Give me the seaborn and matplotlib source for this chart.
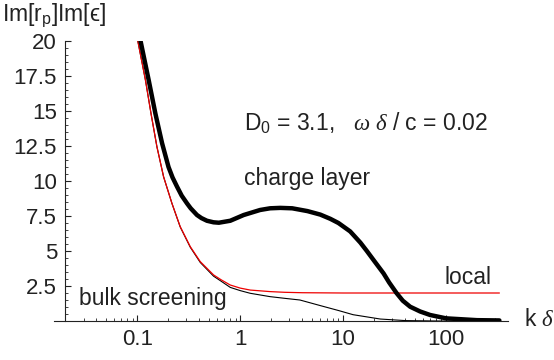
import numpy as np
import pandas as pd
import matplotlib
matplotlib.use("Agg")
import matplotlib.pyplot as plt
import seaborn as sns

# ── data (k delta, Im[r_p] Im[eps]) ─────────────────────────────────────────
k_charge = [0.100, 0.107, 0.129, 0.150, 0.174, 0.201, 0.220, 0.243, 0.270, 0.304,
            0.330, 0.380, 0.420, 0.475, 0.550, 0.620, 0.800, 1.08, 1.56, 1.95,
            2.45, 3.20, 4.50, 6.00, 7.50, 9.00, 11.7, 14.7, 17.0, 20.0,
            24.7, 28.0, 33.0, 38.0, 44.8, 56.0, 70.0, 100.0, 200.0, 330.0]
v_charge = [20.6, 20.07, 17.2, 14.8, 12.7, 11.0, 10.25, 9.6, 8.95, 8.4,
            8.05, 7.57, 7.35, 7.16, 7.05, 7.02, 7.16, 7.57, 7.93, 8.05,
            8.08, 8.05, 7.85, 7.6, 7.3, 7.0, 6.4, 5.6, 5.0, 4.3,
            3.4, 2.75, 2.0, 1.45, 1.02, 0.68, 0.43, 0.19, 0.06, 0.04]

k_local = [0.097, 0.1007, 0.120, 0.136, 0.155, 0.180, 0.217, 0.261, 0.327, 0.409,
           0.551, 0.650, 0.800, 1.00, 1.25, 1.95, 2.70, 4.00, 10.0, 330.0]
v_local = [20.6, 20.07, 17.2, 14.8, 12.45, 10.3, 8.4, 6.74, 5.31, 4.24,
           3.29, 2.95, 2.57, 2.35, 2.21, 2.1, 2.05, 2.02, 2.0, 2.0]

k_bulk = [0.097, 0.1007, 0.120, 0.136, 0.155, 0.180, 0.217, 0.261, 0.327, 0.409,
          0.551, 0.650, 0.800, 1.00, 1.25, 1.95, 2.70, 3.80, 6.00, 9.00,
          12.5, 23.0, 40.0, 80.0, 330.0]
v_bulk = [20.6, 20.07, 17.2, 14.8, 12.45, 10.3, 8.4, 6.72, 5.27, 4.18,
          3.2, 2.85, 2.4, 2.17, 1.98, 1.74, 1.62, 1.5, 1.1, 0.75,
          0.45, 0.14, 0.03, 0.0, 0.0]

x_major = [0.1, 1, 10, 100]
x_major_labels = ["0.1", "1", "10", "100"]
y_major = [2.5, 5, 7.5, 10, 12.5, 15, 17.5, 20]
y_major_labels = ["2.5", "5", "7.5", "10", "12.5", "15", "17.5", "20"]

sns.set_style("ticks")
plt.rcParams["font.family"] = ["Liberation Sans", "DejaVu Sans"]
plt.rcParams["mathtext.fontset"] = "custom"
plt.rcParams["mathtext.rm"] = "Liberation Sans"
plt.rcParams["mathtext.sf"] = "Liberation Sans"
plt.rcParams["mathtext.it"] = "Liberation Serif:italic"

fig = plt.figure(figsize=(5.54, 3.6), dpi=100)
ax = fig.add_axes([54 / 554, 1 - 321 / 360, (508 - 54) / 554, (321 - 41) / 360])

df_c = pd.DataFrame({"k": k_charge, "v": v_charge})
df_l = pd.DataFrame({"k": k_local, "v": v_local})
df_b = pd.DataFrame({"k": k_bulk, "v": v_bulk})

sns.lineplot(data=df_b, x="k", y="v", color="black", linewidth=0.8, ax=ax)
sns.lineplot(data=df_l, x="k", y="v", color="#ee0000", linewidth=0.9, ax=ax)
sns.lineplot(data=df_c, x="k", y="v", color="black", linewidth=3.2, ax=ax)

ax.set_xscale("log")
ax.set_xlim(0.0155, 400)
ax.set_ylim(0, 20)
ax.set_xlabel("")
ax.set_ylabel("")

# ── Mathematica-style axes ───────────────────────────────────────────────────
ax.spines[["top", "right"]].set_visible(False)
ax.spines["left"].set_position(("data", 0.02))
for s in ["left", "bottom"]:
    ax.spines[s].set_linewidth(0.8)
    ax.spines[s].set_color("#222222")

minor_x = [m * 10.0 ** e for e in range(-2, 3) for m in range(2, 10)]
minor_x = [v for v in minor_x if 0.0155 < v < 400]
ax.set_xticks(x_major)
ax.set_xticklabels(x_major_labels)
ax.set_xticks(minor_x, minor=True)
ax.set_yticks(y_major)
ax.set_yticklabels(y_major_labels)
ax.set_yticks(np.arange(0.5, 20.01, 0.5), minor=True)

fs = 16
fa = 16.5
ax.tick_params(axis="both", which="major", direction="in", length=4, width=0.8,
               labelsize=fs, colors="#222222")
ax.tick_params(axis="both", which="minor", direction="in", length=2, width=0.6,
               colors="#222222")
ax.tick_params(axis="y", which="major", pad=6)
ax.tick_params(axis="x", which="major", pad=6)

# ── annotations ──────────────────────────────────────────────────────────────
fig.text(2 / 554, 1 - 15 / 360, r"Im[r$_{\mathrm{p}}$]Im[ϵ]", fontsize=fa,
         va="center", ha="left", color="#222222")
fig.text(524 / 554, 1 - 320 / 360, r"k $\delta$", fontsize=fa,
         va="center", ha="left", color="#222222")
fig.text(244 / 554, 1 - 123 / 360,
         r"D$_{0}$ = 3.1,   $\omega\ \delta$ / c = 0.02",
         fontsize=fa, va="center", ha="left", color="#222222")
fig.text(244 / 554, 1 - 178 / 360, "charge layer", fontsize=fa,
         va="center", ha="left", color="#222222")
fig.text(445 / 554, 1 - 277 / 360, "local", fontsize=fa,
         va="center", ha="left", color="#222222")
fig.text(79 / 554, 1 - 299 / 360, "bulk screening", fontsize=fa,
         va="center", ha="left", color="#222222")

fig.savefig("out.png", dpi=100)
